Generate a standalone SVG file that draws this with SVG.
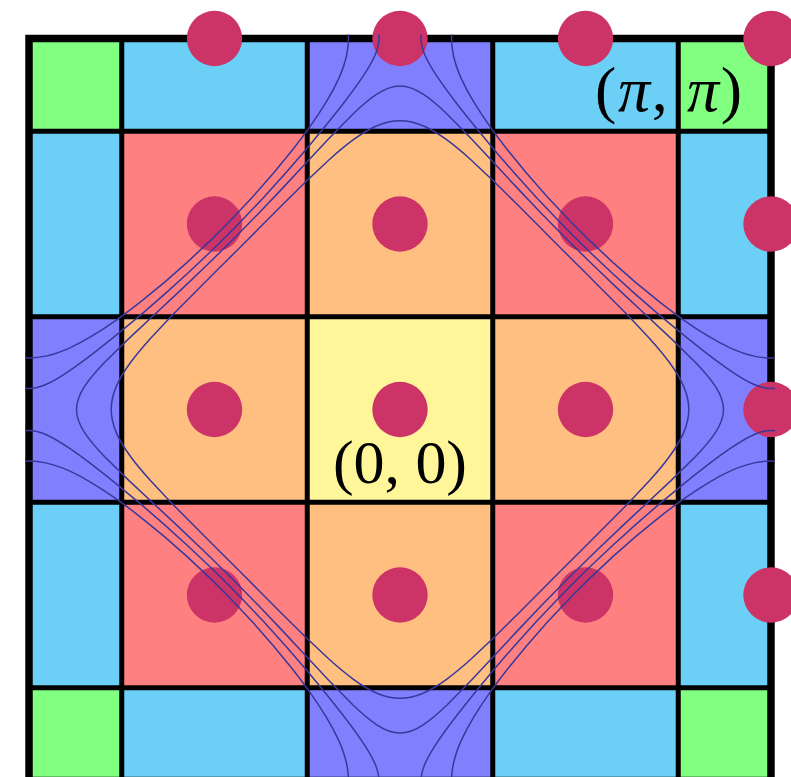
<svg xmlns="http://www.w3.org/2000/svg" xmlns:xlink="http://www.w3.org/1999/xlink" width="791" height="777" viewBox="0 0 791 777">
<defs>
<style>
.g{fill:#80ff80}.b{fill:#6ccff6}.p{fill:#8080ff}.r{fill:#ff8080}.o{fill:#ffbf80}.y{fill:#fff599}
.gl{stroke:#000;stroke-width:5;fill:none}
.dot{fill:#cc3366}
.c{fill:none;stroke:#38389a;stroke-width:1.5}
.lbl{font-family:"Liberation Serif","Times New Roman",serif;fill:#000}
</style>
<clipPath id="clip" clipPathUnits="userSpaceOnUse"><rect x="25" y="34.5" width="750" height="750"/></clipPath>
<g id="oct" class="c">
<path d="M0,-323.52 C8.36,-323.52 16.65,-319.70 23.62,-315.07 C32.18,-309.39 39.83,-302.41 47.24,-295.29 L70.85,-271.22 L94.47,-245.94 L118.09,-220.63 L141.71,-195.82 L168.52,-168.52"/>
<path d="M0,-288.79 C8.07,-288.79 16.22,-286.68 23.62,-283.45 C32.03,-279.78 39.85,-274.74 47.24,-269.30 C55.46,-263.25 63.25,-256.60 70.85,-249.78 L94.47,-227.55 L118.09,-204.18 L141.71,-180.47 L161.07,-161.07"/>
<path d="M24.96,-387.71 C22.68,-382.45 21.03,-376.72 21.03,-370.99 C21.03,-365.26 22.68,-359.53 24.96,-354.27 C28.58,-345.91 33.60,-338.18 38.73,-330.65 C44.22,-322.60 50.03,-314.77 55.95,-307.03 C62.04,-299.07 68.26,-291.21 74.57,-283.42 L94.14,-259.80 L114.57,-236.18 L135.93,-212.56 L158.28,-188.94 L173.49,-173.49"/>
<path d="M53.38,-387.71 C52.21,-382.22 51.57,-376.60 51.57,-370.99 C51.57,-365.38 52.21,-359.76 53.38,-354.27 C55.11,-346.14 57.98,-338.22 61.40,-330.65 C65.08,-322.51 69.41,-314.66 74.05,-307.03 C78.95,-298.96 84.22,-291.12 89.68,-283.42 C95.37,-275.40 101.29,-267.53 107.36,-259.80 L126.66,-236.18 L147.42,-212.56 L169.64,-188.94 L179.23,-179.23"/>
</g>
</defs>
<g id="cells">
<rect class="g" x="29" y="38.5" width="92.75" height="92.75"/>
<rect class="b" x="121.75" y="38.5" width="185.5" height="92.75"/>
<rect class="p" x="307.25" y="38.5" width="185.5" height="92.75"/>
<rect class="b" x="492.75" y="38.5" width="185.5" height="92.75"/>
<rect class="g" x="678.25" y="38.5" width="92.75" height="92.75"/>
<rect class="b" x="29" y="131.25" width="92.75" height="185.5"/>
<rect class="r" x="121.75" y="131.25" width="185.5" height="185.5"/>
<rect class="o" x="307.25" y="131.25" width="185.5" height="185.5"/>
<rect class="r" x="492.75" y="131.25" width="185.5" height="185.5"/>
<rect class="b" x="678.25" y="131.25" width="92.75" height="185.5"/>
<rect class="p" x="29" y="316.75" width="92.75" height="185.5"/>
<rect class="o" x="121.75" y="316.75" width="185.5" height="185.5"/>
<rect class="y" x="307.25" y="316.75" width="185.5" height="185.5"/>
<rect class="o" x="492.75" y="316.75" width="185.5" height="185.5"/>
<rect class="p" x="678.25" y="316.75" width="92.75" height="185.5"/>
<rect class="b" x="29" y="502.25" width="92.75" height="185.5"/>
<rect class="r" x="121.75" y="502.25" width="185.5" height="185.5"/>
<rect class="o" x="307.25" y="502.25" width="185.5" height="185.5"/>
<rect class="r" x="492.75" y="502.25" width="185.5" height="185.5"/>
<rect class="b" x="678.25" y="502.25" width="92.75" height="185.5"/>
<rect class="g" x="29" y="687.75" width="92.75" height="92.75"/>
<rect class="b" x="121.75" y="687.75" width="185.5" height="92.75"/>
<rect class="p" x="307.25" y="687.75" width="185.5" height="92.75"/>
<rect class="b" x="492.75" y="687.75" width="185.5" height="92.75"/>
<rect class="g" x="678.25" y="687.75" width="92.75" height="92.75"/>
</g>
<g id="grid">
<path class="gl" d="M121.75,38.5V780.5M307.25,38.5V780.5M492.75,38.5V780.5M678.25,38.5V780.5M29,131.25H771M29,316.75H771M29,502.25H771M29,687.75H771"/>
<rect x="29" y="38.5" width="742" height="742" fill="none" stroke="#000" stroke-width="7.5"/>
</g>
<g id="dots">
<circle class="dot" cx="214.5" cy="38.5" r="27.7"/>
<circle class="dot" cx="400" cy="38.5" r="27.7"/>
<circle class="dot" cx="585.5" cy="38.5" r="27.7"/>
<circle class="dot" cx="771" cy="38.5" r="27.7"/>
<circle class="dot" cx="214.5" cy="224" r="27.7"/>
<circle class="dot" cx="400" cy="224" r="27.7"/>
<circle class="dot" cx="585.5" cy="224" r="27.7"/>
<circle class="dot" cx="771" cy="224" r="27.7"/>
<circle class="dot" cx="214.5" cy="409.5" r="27.7"/>
<circle class="dot" cx="400" cy="409.5" r="27.7"/>
<circle class="dot" cx="585.5" cy="409.5" r="27.7"/>
<circle class="dot" cx="771" cy="409.5" r="27.7"/>
<circle class="dot" cx="214.5" cy="595" r="27.7"/>
<circle class="dot" cx="400" cy="595" r="27.7"/>
<circle class="dot" cx="585.5" cy="595" r="27.7"/>
<circle class="dot" cx="771" cy="595" r="27.7"/>
</g>
<g id="contours" clip-path="url(#clip)">
<use href="#oct" xlink:href="#oct" transform="matrix(1,0,0,1,400,409.5)"/>
<use href="#oct" xlink:href="#oct" transform="matrix(-1,0,0,1,400,409.5)"/>
<use href="#oct" xlink:href="#oct" transform="matrix(1,0,0,-1,400,409.5)"/>
<use href="#oct" xlink:href="#oct" transform="matrix(-1,0,0,-1,400,409.5)"/>
<use href="#oct" xlink:href="#oct" transform="matrix(0,1,1,0,400,409.5)"/>
<use href="#oct" xlink:href="#oct" transform="matrix(0,-1,1,0,400,409.5)"/>
<use href="#oct" xlink:href="#oct" transform="matrix(0,1,-1,0,400,409.5)"/>
<use href="#oct" xlink:href="#oct" transform="matrix(0,-1,-1,0,400,409.5)"/>
</g>
<g id="labels">
<text id="label-origin" class="lbl" x="400" y="483" font-size="62" text-anchor="middle" textLength="134">(0, 0)</text>
<text id="label-pipi" class="lbl" x="668.5" y="111" font-size="64" text-anchor="middle" textLength="147">(<tspan font-style="italic">π</tspan>, <tspan font-style="italic">π</tspan>)</text>
</g>
</svg>
